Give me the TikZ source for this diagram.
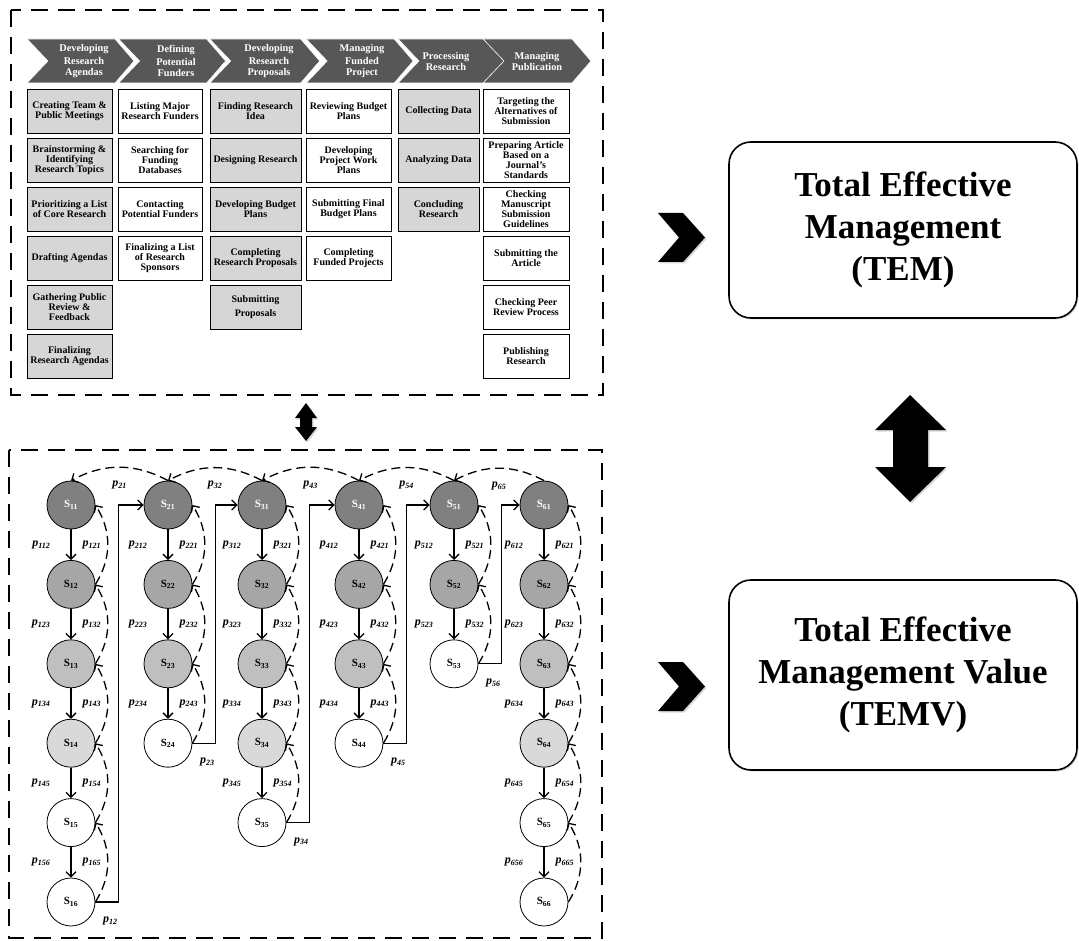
\documentclass[tikz,border=0pt]{standalone}
\usepackage{fontspec}
\setmainfont{Liberation Serif}
\usetikzlibrary{arrows.meta,shadows}

\newcommand{\prb}[1]{p\textsubscript{#1}}

\tikzset{
  panel/.style={draw=black, line width=2.6pt, dash pattern=on 17pt off 10pt},
  chev/.style={fill=black!66, draw=white, line width=0.6pt},
  chevtxt/.style={text=white, align=center, inner sep=0pt, font=\bfseries\fontsize{10.3}{11}\selectfont},
  task/.style={draw, line width=0.9pt, fill=white, minimum height=44pt, inner sep=0pt, align=center, font=\bfseries\fontsize{10}{10}\selectfont},
  taskg/.style={task, fill=black!16},
  st/.style={circle, draw, line width=0.8pt, minimum size=48pt, inner sep=0pt, font=\bfseries\fontsize{11}{11}\selectfont},
  lv1/.style={fill=black!50, text=white},
  lv2/.style={fill=black!35},
  lv3/.style={fill=black!25},
  lv4/.style={fill=black!15},
  lv5/.style={fill=white},
  pl/.style={inner sep=0pt, font=\bfseries\itshape\fontsize{12}{12}\selectfont},
  flow/.style={-{Straight Barb[length=5pt,width=10pt]}, line width=1.3pt},
  back/.style={flow, dash pattern=on 9pt off 5pt},
  bigbox/.style={draw, fill=white, rounded corners=22pt, line width=1.6pt, minimum width=348pt, align=center, font=\bfseries\fontsize{35}{42}\selectfont, drop shadow={opacity=0.3, shadow xshift=1.5pt, shadow yshift=-1.5pt}},
  bigarrow/.style={fill=black, drop shadow={opacity=0.3, shadow xshift=1.5pt, shadow yshift=-1.5pt}}
}

\begin{document}
\begin{tikzpicture}[x=1pt, y=-1pt]
\useasboundingbox (0,0) rectangle (1079,941);

% the two dashed panels
\draw[panel] (11,10) rectangle (603,395);
\draw[panel] (9,450) rectangle (602,938);

% stage headers
\foreach \x/\w/\cx/\txt [count=\i] in {27/107/84/{Developing\\[2pt]Research\\Agendas}, 118.6/107/176/{Defining\\[2pt]Potential\\Funders}, 209.7/110/269/{Developing\\[2pt]Research\\Proposals}, 306.2/107/362/{Managing\\[2pt]Funded\\Project}, 398/107/446/{Processing\\Research}, 483/108/537/{Managing\\Publication}} {
  \filldraw[chev] (\x,39) -- ++(\w-19,0) -- ++(19,22) -- ++(-19,22) -- ++(19-\w,0) -- ++(21,-22) -- cycle;
  \node[chevtxt] (h\i) at (\cx,61) {\txt};
}

% tasks of each stage
\foreach \txt [count=\ri] in {{Creating Team \&\\Public Meetings}, {Brainstorming \&\\Identifying\\Research Topics}, {Prioritizing a List\\of Core Research}, {Drafting Agendas}, {Gathering Public\\Review \&\\Feedback}, {Finalizing\\Research Agendas}}
  \node[taskg, minimum width=85pt] (b1\ri) at (69.5,{111+49*(\ri-1)}) {\txt};
\foreach \txt [count=\ri] in {{Listing Major\\Research Funders}, {Searching for\\Funding\\Databases}, {Contacting\\Potential Funders}, {Finalizing a List\\of Research\\Sponsors}}
  \node[task, minimum width=84pt] (b2\ri) at (160,{111+49*(\ri-1)}) {\txt};
\foreach \txt [count=\ri] in {{Finding Research\\Idea}, {Designing Research}, {Developing Budget\\Plans}, {Completing\\Research Proposals}, {Submitting\\[4pt]Proposals}}
  \node[taskg, minimum width=91pt] (b3\ri) at (255.5,{111+49*(\ri-1)}) {\txt};
\foreach \txt [count=\ri] in {{Reviewing Budget\\Plans}, {Developing\\Project Work\\Plans}, {Submitting Final\\Budget Plans}, {Completing\\Funded Projects}}
  \node[task, minimum width=85pt] (b4\ri) at (348.5,{111+49*(\ri-1)}) {\txt};
\foreach \txt [count=\ri] in {{Collecting Data}, {Analyzing Data}, {Concluding\\Research}}
  \node[taskg, minimum width=81pt] (b5\ri) at (438.5,{111+49*(\ri-1)}) {\txt};
\foreach \txt [count=\ri] in {{Targeting the\\Alternatives of\\Submission}, {Preparing Article\\Based on a\\Journal's\\Standards}, {Checking\\Manuscript\\Submission\\Guidelines}, {Submitting the\\Article}, {Checking Peer\\Review Process}, {Publishing\\Research}}
  \node[task, minimum width=86pt] (b6\ri) at (526,{111+49*(\ri-1)}) {\txt};

% link between panels
\fill[bigarrow] (306,403) -- (317,418) -- (312,418) -- (312,427) -- (317,427) -- (306,441) -- (295,427) -- (300,427) -- (300,418) -- (295,418) -- cycle;

% states
\foreach \ci/\x/\n/\w in {1/71/6/2, 2/168/4/1, 3/262/5/1, 4/359/4/1, 5/454/3/1, 6/544/6/2}
  \foreach \ri in {1,...,\n} {
    \pgfmathtruncatemacro\lvl{\ri>\n-\w ? 5 : \ri}
    \node[st, lv\lvl] (s\ci\ri) at (\x,{505+79.4*(\ri-1)}) {S\textsubscript{\ci\ri}};
  }

% moves inside a stage
\foreach \ci/\n in {1/6, 2/4, 3/5, 4/4, 5/3, 6/6}
  \foreach \ri in {2,...,\n} {
    \pgfmathtruncatemacro\qi{\ri-1}
    \draw[flow] (s\ci\qi) -- node[pl, left=20pt] {\prb{\ci\qi\ri}} node[pl, right=11pt] {\prb{\ci\ri\qi}} (s\ci\ri);
    \draw[back] (s\ci\ri.east) to[bend right=32] (s\ci\qi.east);
  }

% going back a stage
\foreach \a/\b in {1/2, 2/3, 3/4, 4/5, 5/6}
  \draw[back] (s\b1.north) to[bend right=28] node[pl, below=13pt] {\prb{\b\a}} (s\a1.north);

% going to the next stage
\foreach \a/\b/\m in {1/2/6, 2/3/4, 3/4/5, 4/5/4, 5/6/3}
  \draw[flow] (s\a\m.east) -- ++(23,0) node[pl, xshift=-8pt, yshift=-19pt] {\prb{\a\b}} |- (s\b1.west);

% right side
\foreach \y in {213,662}
  \fill[bigarrow] (658,\y) -- ++(25,0) -- ++(22,24.5) -- ++(-22,24.5) -- ++(-25,0) -- ++(21,-24.5) -- cycle;
\node[bigbox, minimum height=176pt] (tem) at (903,230) {Total Effective\\Management\\(TEM)};
\node[bigbox, minimum height=190pt] (temv) at (903,675) {Total Effective\\Management Value\\(TEMV)};
\fill[bigarrow] (910,395) -- (946,430) -- (928,430) -- (928,467) -- (946,467) -- (910,502) -- (875,467) -- (893,467) -- (893,430) -- (875,430) -- cycle;
\end{tikzpicture}
\end{document}
